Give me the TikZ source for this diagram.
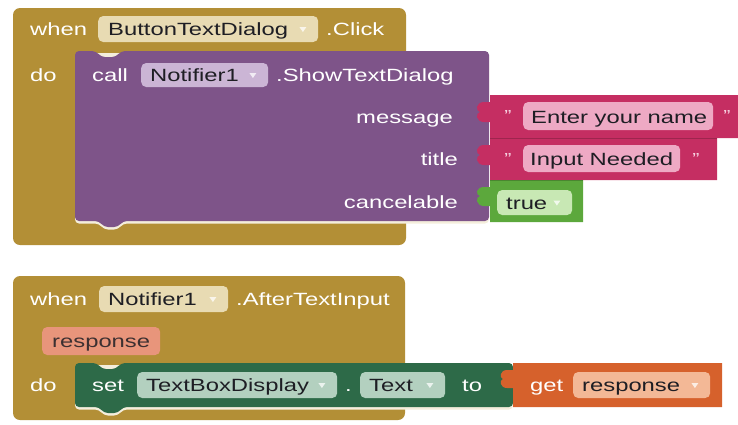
\documentclass[tikz,border=0pt]{standalone}
\usepackage{fontspec}
\setmainfont{Liberation Sans}[FakeStretch=1.345]
\usetikzlibrary{calc}
\definecolor{gold}{HTML}{B38F36}
\definecolor{goldpill}{HTML}{E8DBB3}
\definecolor{purp}{HTML}{7E5489}
\definecolor{purppill}{HTML}{CBB5D5}
\definecolor{mag}{HTML}{C52E62}
\definecolor{magpill}{HTML}{EEA9C4}
\definecolor{grn}{HTML}{5CA83C}
\definecolor{grnpill}{HTML}{C8E8B4}
\definecolor{dkgrn}{HTML}{2D6A48}
\definecolor{dkgrnpill}{HTML}{B3D0BF}
\definecolor{orng}{HTML}{D6612C}
\definecolor{orngpill}{HTML}{F3B896}
\definecolor{salmon}{HTML}{E8957B}
\definecolor{txtdark}{HTML}{1E1E24}
\definecolor{hilite}{HTML}{F4EEDC}
\begin{document}
\begin{tikzpicture}[x=1pt,y=-1pt,
  font=\fontsize{17.7}{20}\selectfont,
  lbl/.style={text=white, inner sep=0pt, anchor=base west},
  lblr/.style={text=white, inner sep=0pt, anchor=base east},
  ptxt/.style={text=txtdark, inner sep=0pt, anchor=base west},
  pill/.style={rounded corners=5pt, inner sep=0pt, anchor=west, minimum height=26pt},
  qmark/.style={text=magpill!55!white, inner sep=0pt, anchor=base, font=\fontsize{16}{16}\selectfont},
  ddtri/.style={fill=white, fill opacity=0.75}]
\useasboundingbox (0,0) rectangle (738,424);

% ---------------- top event block ----------------
\fill[gold, rounded corners=7pt] (13,8) rectangle (406,245);
% highlight under statement
\fill[hilite, rounded corners=4pt] (75,53) -- (489,53) -- (489,223.5) -- (123,223.5) -- (118,229.5) -- (104,229.5) -- (99,223.5) -- (75,223.5) -- cycle;
\fill[purp, rounded corners=4pt] (75,51) -- (96,51) -- (101,57) -- (116,57) -- (121,51) -- (489,51) -- (489,221) -- (123,221) -- (118,227) -- (104,227) -- (99,221) -- (75,221) -- cycle;

% value blocks
\fill[mag] (490,95) -- (738,95) -- (738,138) -- (490,138) -- (490,122) -- (484,122)
  .. controls (476,122) and (475,113) .. (480,112) .. controls (475,111) and (476,102) .. (484,102) -- (490,102) -- cycle;
\fill[mag] (490,138) -- (717,138) -- (717,180) -- (490,180) -- (490,165) -- (484,165)
  .. controls (476,165) and (475,156) .. (480,155) .. controls (475,154) and (476,145) .. (484,145) -- (490,145) -- cycle;
\fill[grn] (490,180) -- (583,180) -- (583,222) -- (490,222) -- (490,206) -- (484,206)
  .. controls (476,206) and (475,197) .. (480,196) .. controls (475,195) and (476,187) .. (484,187) -- (490,187) -- cycle;
\draw[mag!80!black, line width=0.6pt] (490,138) -- (717,138);
\draw[grn!80!black, line width=0.6pt] (490,180) -- (583,180);

% header row
\node[lbl] (when1) at (30,35) {when};
\node[pill, fill=goldpill, minimum width=220pt] (p1) at (98,29) {};
\node[ptxt] (t1) at (108,35) {ButtonTextDialog};
\fill[ddtri] ($(p1.east)+(-19,-2)$) -- ++(7,0) -- ++(-3.5,5) -- cycle;
\node[lbl] (click) at (326,35) {.Click};

% do / call row
\node[lbl] (do1) at (30,81) {do};
\node[lbl] (call) at (92,81) {call};
\node[pill, fill=purppill, minimum width=127pt, minimum height=24pt] (p2) at (141,75) {};
\node[ptxt] (t2) at (150,81) {Notifier1};
\fill[ddtri] ($(p2.east)+(-19,-2)$) -- ++(7,0) -- ++(-3.5,5) -- cycle;
\node[lbl] (show) at (276,81) {.ShowTextDialog};

\node[lblr] (msg) at (453,123) {message};
\node[lblr] (ttl) at (458,165) {title};
\node[lblr] (canc) at (458,208) {cancelable};

% message text block
\node[qmark] (q1a) at (508,121) {"};
\node[pill, fill=magpill, minimum width=190pt, minimum height=28pt] (p3) at (523,116) {};
\node[ptxt] (t3) at (531,123) {Enter your name};
\node[qmark] (q1b) at (727,121) {"};

% title text block
\node[qmark] (q2a) at (508,164) {"};
\node[pill, fill=magpill, minimum width=157pt, minimum height=27pt] (p4) at (523,158.5) {};
\node[ptxt] (t4) at (530,165) {Input Needed};
\node[qmark] (q2b) at (696,164) {"};

% true block
\node[pill, fill=grnpill, minimum width=75pt, minimum height=25pt] (p5) at (497,202.5) {};
\node[ptxt] (t5) at (506,209) {true};
\fill[ddtri] ($(p5.east)+(-19,-2)$) -- ++(7,0) -- ++(-3.5,5) -- cycle;

% ---------------- bottom event block ----------------
\fill[gold, rounded corners=7pt] (13,276) rectangle (405,420);
\node[lbl] (when2) at (30,305) {when};
\node[pill, fill=goldpill, minimum width=129pt] (p6) at (99,299) {};
\node[ptxt] (t6) at (108,305) {Notifier1};
\fill[ddtri] ($(p6.east)+(-19,-2)$) -- ++(7,0) -- ++(-3.5,5) -- cycle;
\node[lbl] (after) at (236,305) {.AfterTextInput};

\node[pill, fill=salmon, minimum width=118pt, minimum height=28pt] (p7) at (42,341) {};
\node[ptxt, text=txtdark!85!salmon] (t7) at (52,347) {response};

\node[lbl] (do2) at (30,391) {do};

\fill[hilite, rounded corners=4pt] (75,365) -- (513,365) -- (513,409.5) -- (123,409.5) -- (118,415.5) -- (104,415.5) -- (99,409.5) -- (75,409.5) -- cycle;
\fill[dkgrn, rounded corners=4pt] (75,363) -- (97,363) -- (102,369) -- (116,369) -- (121,363) -- (513,363) -- (513,407) -- (123,407) -- (118,413) -- (104,413) -- (99,407) -- (75,407) -- cycle;
\fill[orng] (513,363) -- (722,363) -- (722,407) -- (513,407) -- (513,388) -- (507,388)
  .. controls (500,388) and (499,380) .. (503,379) .. controls (499,378) and (500,370) .. (507,370) -- (513,370) -- cycle;

\node[lbl] (set) at (92,391) {set};
\node[pill, fill=dkgrnpill, minimum width=200pt] (p8) at (137,385) {};
\node[ptxt] (t8) at (146,391) {TextBoxDisplay};
\fill[ddtri] ($(p8.east)+(-19,-2)$) -- ++(7,0) -- ++(-3.5,5) -- cycle;
\node[lbl] (dot) at (345,391) {.};
\node[pill, fill=dkgrnpill, minimum width=85pt] (p9) at (360,385) {};
\node[ptxt] (t9) at (369,391) {Text};
\fill[ddtri] ($(p9.east)+(-19,-2)$) -- ++(7,0) -- ++(-3.5,5) -- cycle;
\node[lbl] (to) at (462,391) {to};

\node[lbl] (get) at (530,391) {get};
\node[pill, fill=orngpill, minimum width=137pt] (p10) at (573,385) {};
\node[ptxt] (t10) at (582,391) {response};
\fill[ddtri] ($(p10.east)+(-19,-2)$) -- ++(7,0) -- ++(-3.5,5) -- cycle;
\end{tikzpicture}
\end{document}
